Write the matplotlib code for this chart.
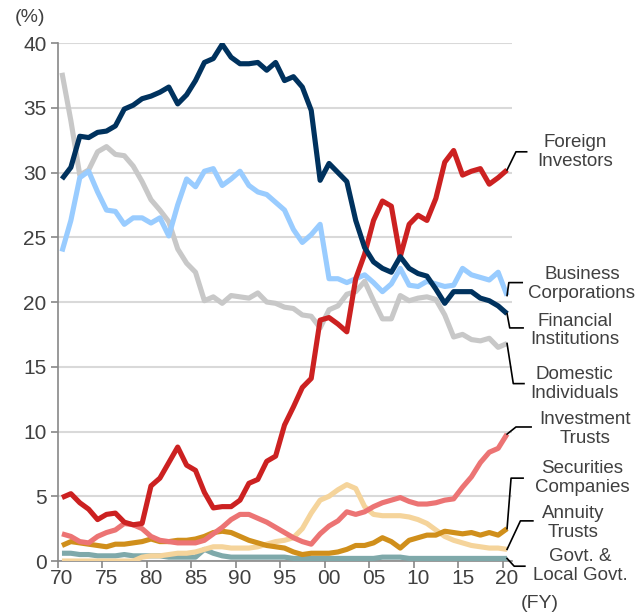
import numpy as np
import matplotlib.pyplot as plt

plt.rcParams['font.family'] = ['Liberation Sans', 'DejaVu Sans']

years = np.arange(1970, 2021)

foreign = [4.9, 5.2, 4.5, 4.0, 3.2, 3.6, 3.7, 3.0, 2.8, 2.9,
           5.8, 6.4, 7.6, 8.8, 7.4, 7.0, 5.3, 4.1, 4.2, 4.2,
           4.7, 6.0, 6.3, 7.7, 8.1, 10.5, 11.9, 13.4, 14.1, 18.6,
           18.8, 18.3, 17.7, 21.8, 23.7, 26.3, 27.8, 27.4, 23.5, 26.0,
           26.7, 26.3, 28.0, 30.8, 31.7, 29.8, 30.1, 30.3, 29.1, 29.6,
           30.2]
financial = [29.5, 30.4, 32.8, 32.7, 33.1, 33.2, 33.6, 34.9, 35.2, 35.7,
             35.9, 36.2, 36.6, 35.3, 36.0, 37.1, 38.5, 38.8, 39.9, 38.9,
             38.4, 38.4, 38.5, 37.9, 38.5, 37.1, 37.4, 36.6, 34.8, 29.4,
             30.7, 30.0, 29.3, 26.3, 24.2, 23.1, 22.6, 22.3, 23.5, 22.6,
             22.2, 22.0, 21.0, 19.9, 20.8, 20.8, 20.8, 20.3, 20.1, 19.7,
             19.1]
business = [23.9, 26.3, 29.6, 30.1, 28.5, 27.1, 27.0, 26.0, 26.5, 26.5,
            26.1, 26.5, 25.1, 27.5, 29.5, 28.9, 30.1, 30.3, 29.0, 29.5,
            30.1, 29.0, 28.5, 28.3, 27.7, 27.1, 25.6, 24.6, 25.2, 26.0,
            21.8, 21.8, 21.5, 21.8, 22.1, 21.5, 20.8, 21.4, 22.6, 21.3,
            21.2, 21.6, 21.4, 21.2, 21.3, 22.6, 22.1, 21.9, 21.7, 22.3,
            20.5]
individuals = [37.7, 34.0, 29.8, 30.2, 31.6, 32.0, 31.4, 31.3, 30.5, 29.3,
               27.9, 27.1, 26.2, 24.1, 23.0, 22.3, 20.1, 20.4, 19.9, 20.5,
               20.4, 20.3, 20.7, 20.0, 19.9, 19.6, 19.5, 19.0, 18.9, 18.0,
               19.4, 19.7, 20.6, 20.8, 21.6, 20.1, 18.7, 18.7, 20.5, 20.1,
               20.3, 20.4, 20.2, 19.0, 17.3, 17.5, 17.1, 17.0, 17.2, 16.5,
               16.8]
inv_trusts = [2.1, 1.9, 1.5, 1.4, 1.9, 2.2, 2.4, 2.9, 2.8, 2.5,
              1.9, 1.6, 1.5, 1.4, 1.4, 1.4, 1.6, 2.1, 2.6, 3.2,
              3.6, 3.6, 3.3, 3.0, 2.6, 2.2, 1.8, 1.5, 1.3, 2.1,
              2.7, 3.1, 3.8, 3.6, 3.8, 4.2, 4.5, 4.7, 4.9, 4.6,
              4.4, 4.4, 4.5, 4.7, 4.8, 5.7, 6.5, 7.6, 8.4, 8.7,
              9.8]
securities = [1.2, 1.5, 1.4, 1.3, 1.2, 1.1, 1.3, 1.3, 1.4, 1.5,
              1.7, 1.5, 1.5, 1.6, 1.6, 1.7, 1.9, 2.2, 2.3, 2.2,
              1.9, 1.6, 1.4, 1.2, 1.1, 1.0, 0.7, 0.5, 0.6, 0.6,
              0.6, 0.7, 0.9, 1.2, 1.2, 1.4, 1.8, 1.5, 1.0, 1.6,
              1.8, 2.0, 2.0, 2.3, 2.2, 2.1, 2.2, 2.0, 2.2, 2.0,
              2.5]
annuity = [0.0, 0.0, 0.0, 0.0, 0.0, 0.0, 0.0, 0.0, 0.0, 0.3,
           0.4, 0.4, 0.5, 0.6, 0.6, 0.7, 0.9, 1.1, 1.1, 1.0,
           1.0, 1.0, 1.1, 1.3, 1.5, 1.6, 1.8, 2.5, 3.7, 4.7,
           5.0, 5.5, 5.9, 5.6, 4.2, 3.6, 3.5, 3.5, 3.5, 3.4,
           3.2, 2.9, 2.4, 1.9, 1.6, 1.4, 1.2, 1.1, 1.0, 1.0,
           0.9]
govt = [0.6, 0.6, 0.5, 0.5, 0.4, 0.4, 0.4, 0.5, 0.4, 0.4,
        0.4, 0.4, 0.3, 0.3, 0.3, 0.3, 0.9, 0.6, 0.4, 0.3,
        0.3, 0.3, 0.3, 0.3, 0.3, 0.3, 0.2, 0.2, 0.2, 0.2,
        0.2, 0.2, 0.2, 0.2, 0.2, 0.2, 0.3, 0.3, 0.3, 0.2,
        0.2, 0.2, 0.2, 0.2, 0.2, 0.2, 0.2, 0.2, 0.2, 0.2,
        0.2]

# series: values, colour, label, (elbow dx, elbow y, end dx), text (dx, y)
series = [
    (govt, '#7fa9aa', 'Govt. &\nLocal Govt.', (0.8, -0.4, 2.0), (8.2, -0.4)),
    (annuity, '#f5d49b', 'Annuity\nTrusts', (1.5, 3.1, 2.9), (7.4, 2.9)),
    (securities, '#d08f1b', 'Securities\nCompanies', (0.45, 6.4, 1.8), (8.4, 6.4)),
    (inv_trusts, '#ec7474', 'Investment\nTrusts', (1.0, 10.35, 2.7), (8.8, 10.2)),
    (individuals, '#c8c8c8', 'Domestic\nIndividuals', (0.7, 13.7, 1.9), (7.6, 13.7)),
    (business, '#99ccff', 'Business\nCorporations', (0.2, 21.5, 1.7), (8.4, 21.4)),
    (foreign, '#cc2121', 'Foreign\nInvestors', (1.0, 31.6, 2.2), (7.6, 31.6)),
    (financial, '#00325e', 'Financial\nInstitutions', (0.3, 18.0, 1.8), (7.6, 17.8)),
]

fig = plt.figure(figsize=(6.37, 6.12), dpi=100)
ax = fig.add_axes([0.0903, 0.0833, 0.7127, 0.8464])

text_col = '#404040'
for vals, col, lab, (ex, ey, dx2), (tx, ty) in series:
    ax.plot(years, vals, color=col, lw=3.7, solid_joinstyle='round',
            solid_capstyle='butt', zorder=3)
    x0, y0 = years[-1], vals[-1]
    ax.plot([x0, x0 + ex, x0 + dx2], [y0, ey, ey], color='black', lw=1.2,
            clip_on=False, zorder=4)
    ax.text(x0 + tx, ty, lab, ha='center', va='center', fontsize=13.5,
            color=text_col, linespacing=1.15, clip_on=False)

ax.set_xlim(1969.5, 2020.5)
ax.set_ylim(0, 40)
ax.set_yticks(np.arange(0, 41, 5))
ax.yaxis.grid(True, color='#d9d9d9', lw=1.5)
ax.set_axisbelow(True)

lab_years = np.arange(1970, 2021, 5)
ax.set_xticks(lab_years)
ax.set_xticklabels([f'{y % 100:02d}' for y in lab_years])
ax.set_xticks(np.arange(1969.5, 2021, 5), minor=True)
ax.tick_params(axis='x', which='major', length=0, pad=6)
ax.tick_params(axis='x', which='minor', length=5, color='#888888', width=1.2)
ax.tick_params(axis='y', length=5, color='#888888', width=1.2, pad=3)
ax.tick_params(labelsize=15, labelcolor=text_col)

for s in ['top', 'right']:
    ax.spines[s].set_visible(False)
for s in ['left', 'bottom']:
    ax.spines[s].set_color('#888888')
    ax.spines[s].set_linewidth(1.2)

fig.text(30 / 637, 1 - 17 / 612, '(%)', ha='center', va='center',
         fontsize=14, color=text_col)
fig.text(540 / 637, 1 - 603 / 612, '(FY)', ha='center', va='center',
         fontsize=14, color=text_col)

fig.savefig('out.png', dpi=100)
